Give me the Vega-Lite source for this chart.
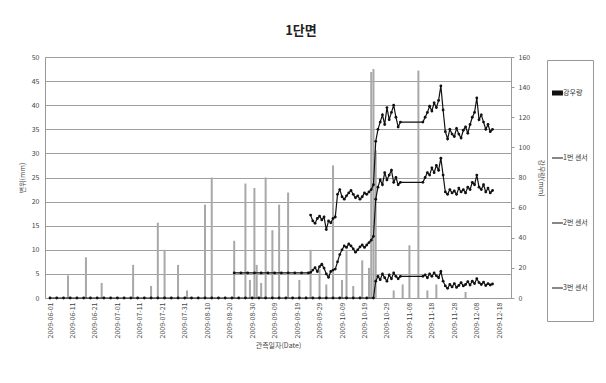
{
  "$schema": "https://vega.github.io/schema/vega-lite/v6.json",
  "width": 466,
  "height": 241,
  "autosize": {"type": "none"},
  "padding": {"left": 45, "top": 57, "right": 95, "bottom": 85},
  "background": "white",
  "title": {"text": "1단면", "fontSize": 13, "fontWeight": "bold", "color": "#222", "offset": 15, "dx": 23, "anchor": "middle"},
  "config": {
    "font": "Noto Sans CJK KR",
    "view": {"stroke": null},
    "axis": {"labelFontSize": 7, "labelColor": "#444", "titleFontSize": 7, "titleColor": "#444", "titleFontWeight": "normal", "domainColor": "#999", "tickColor": "#999", "gridColor": "#a0a0a0", "gridWidth": 1},
    "axisX": {"labelOverlap": false}
  },
  "datasets": {
    "rain": [
      {"d": "2009-06-09", "r": 15}, {"d": "2009-06-17", "r": 27}, {"d": "2009-06-24", "r": 10},
      {"d": "2009-07-08", "r": 22}, {"d": "2009-07-16", "r": 8}, {"d": "2009-07-19", "r": 50},
      {"d": "2009-07-22", "r": 32}, {"d": "2009-07-28", "r": 22}, {"d": "2009-08-01", "r": 5},
      {"d": "2009-08-09", "r": 62}, {"d": "2009-08-12", "r": 80}, {"d": "2009-08-22", "r": 38},
      {"d": "2009-08-27", "r": 76}, {"d": "2009-08-29", "r": 12}, {"d": "2009-08-31", "r": 73},
      {"d": "2009-09-01", "r": 22}, {"d": "2009-09-03", "r": 10}, {"d": "2009-09-05", "r": 80},
      {"d": "2009-09-08", "r": 45}, {"d": "2009-09-11", "r": 62}, {"d": "2009-09-15", "r": 70},
      {"d": "2009-09-20", "r": 12}, {"d": "2009-09-25", "r": 32}, {"d": "2009-09-29", "r": 19},
      {"d": "2009-10-02", "r": 9}, {"d": "2009-10-05", "r": 88}, {"d": "2009-10-09", "r": 12},
      {"d": "2009-10-11", "r": 32}, {"d": "2009-10-14", "r": 8}, {"d": "2009-10-18", "r": 25},
      {"d": "2009-10-21", "r": 20}, {"d": "2009-10-22", "r": 150}, {"d": "2009-10-23", "r": 152},
      {"d": "2009-10-24", "r": 98}, {"d": "2009-11-01", "r": 5}, {"d": "2009-11-05", "r": 9},
      {"d": "2009-11-08", "r": 35}, {"d": "2009-11-12", "r": 151}, {"d": "2009-11-16", "r": 5},
      {"d": "2009-11-20", "r": 9}, {"d": "2009-12-03", "r": 4}
    ],
    "sensor": [
      {"d": "2009-09-25", "s": "1번 센서", "v": 17.2}, {"d": "2009-09-26", "s": "1번 센서", "v": 16.0},
      {"d": "2009-09-27", "s": "1번 센서", "v": 15.5}, {"d": "2009-09-28", "s": "1번 센서", "v": 16.5},
      {"d": "2009-09-29", "s": "1번 센서", "v": 17.0}, {"d": "2009-09-30", "s": "1번 센서", "v": 16.2},
      {"d": "2009-10-01", "s": "1번 센서", "v": 16.8}, {"d": "2009-10-02", "s": "1번 센서", "v": 14.2},
      {"d": "2009-10-03", "s": "1번 센서", "v": 16.0}, {"d": "2009-10-04", "s": "1번 센서", "v": 15.6},
      {"d": "2009-10-05", "s": "1번 센서", "v": 16.5}, {"d": "2009-10-06", "s": "1번 센서", "v": 16.8},
      {"d": "2009-10-07", "s": "1번 센서", "v": 21.5}, {"d": "2009-10-08", "s": "1번 센서", "v": 22.5},
      {"d": "2009-10-09", "s": "1번 센서", "v": 21.0}, {"d": "2009-10-10", "s": "1번 센서", "v": 20.5},
      {"d": "2009-10-11", "s": "1번 센서", "v": 21.2}, {"d": "2009-10-12", "s": "1번 센서", "v": 21.8},
      {"d": "2009-10-13", "s": "1번 센서", "v": 22.3}, {"d": "2009-10-14", "s": "1번 센서", "v": 21.5},
      {"d": "2009-10-15", "s": "1번 센서", "v": 20.8}, {"d": "2009-10-16", "s": "1번 센서", "v": 21.2},
      {"d": "2009-10-17", "s": "1번 센서", "v": 20.5}, {"d": "2009-10-18", "s": "1번 센서", "v": 21.0},
      {"d": "2009-10-19", "s": "1번 센서", "v": 21.8}, {"d": "2009-10-20", "s": "1번 센서", "v": 21.5},
      {"d": "2009-10-21", "s": "1번 센서", "v": 22.0}, {"d": "2009-10-22", "s": "1번 센서", "v": 22.5},
      {"d": "2009-10-23", "s": "1번 센서", "v": 23.5}, {"d": "2009-10-24", "s": "1번 센서", "v": 32.5},
      {"d": "2009-10-25", "s": "1번 센서", "v": 35.0}, {"d": "2009-10-26", "s": "1번 센서", "v": 36.5},
      {"d": "2009-10-27", "s": "1번 센서", "v": 38.0}, {"d": "2009-10-28", "s": "1번 센서", "v": 36.0},
      {"d": "2009-10-29", "s": "1번 센서", "v": 39.5}, {"d": "2009-10-30", "s": "1번 센서", "v": 37.0},
      {"d": "2009-10-31", "s": "1번 센서", "v": 38.5}, {"d": "2009-11-01", "s": "1번 센서", "v": 40.0},
      {"d": "2009-11-02", "s": "1번 센서", "v": 37.5}, {"d": "2009-11-03", "s": "1번 센서", "v": 35.5},
      {"d": "2009-11-04", "s": "1번 센서", "v": 36.5}, {"d": "2009-11-14", "s": "1번 센서", "v": 36.5},
      {"d": "2009-11-15", "s": "1번 센서", "v": 37.5}, {"d": "2009-11-16", "s": "1번 센서", "v": 38.5},
      {"d": "2009-11-17", "s": "1번 센서", "v": 39.8}, {"d": "2009-11-18", "s": "1번 센서", "v": 38.8},
      {"d": "2009-11-19", "s": "1번 센서", "v": 40.5}, {"d": "2009-11-20", "s": "1번 센서", "v": 39.5},
      {"d": "2009-11-21", "s": "1번 센서", "v": 41.0}, {"d": "2009-11-22", "s": "1번 센서", "v": 44.0},
      {"d": "2009-11-23", "s": "1번 센서", "v": 39.0}, {"d": "2009-11-24", "s": "1번 센서", "v": 34.5},
      {"d": "2009-11-25", "s": "1번 센서", "v": 33.0}, {"d": "2009-11-26", "s": "1번 센서", "v": 35.0},
      {"d": "2009-11-27", "s": "1번 센서", "v": 34.0}, {"d": "2009-11-28", "s": "1번 센서", "v": 33.5},
      {"d": "2009-11-29", "s": "1번 센서", "v": 35.2}, {"d": "2009-11-30", "s": "1번 센서", "v": 34.0},
      {"d": "2009-12-01", "s": "1번 센서", "v": 33.2}, {"d": "2009-12-02", "s": "1번 센서", "v": 34.8},
      {"d": "2009-12-03", "s": "1번 센서", "v": 35.5}, {"d": "2009-12-04", "s": "1번 센서", "v": 34.2},
      {"d": "2009-12-05", "s": "1번 센서", "v": 36.0}, {"d": "2009-12-06", "s": "1번 센서", "v": 37.5},
      {"d": "2009-12-07", "s": "1번 센서", "v": 38.5}, {"d": "2009-12-08", "s": "1번 센서", "v": 41.5},
      {"d": "2009-12-09", "s": "1번 센서", "v": 37.0}, {"d": "2009-12-10", "s": "1번 센서", "v": 38.0},
      {"d": "2009-12-11", "s": "1번 센서", "v": 36.5}, {"d": "2009-12-12", "s": "1번 센서", "v": 35.0},
      {"d": "2009-12-13", "s": "1번 센서", "v": 36.0}, {"d": "2009-12-14", "s": "1번 센서", "v": 34.5},
      {"d": "2009-12-15", "s": "1번 센서", "v": 35.0},

      {"d": "2009-08-22", "s": "2번 센서", "v": 5.2}, {"d": "2009-08-25", "s": "2번 센서", "v": 5.2},
      {"d": "2009-08-28", "s": "2번 센서", "v": 5.2}, {"d": "2009-08-31", "s": "2번 센서", "v": 5.2},
      {"d": "2009-09-03", "s": "2번 센서", "v": 5.2}, {"d": "2009-09-06", "s": "2번 센서", "v": 5.2},
      {"d": "2009-09-09", "s": "2번 센서", "v": 5.2}, {"d": "2009-09-12", "s": "2번 센서", "v": 5.2},
      {"d": "2009-09-15", "s": "2번 센서", "v": 5.2}, {"d": "2009-09-18", "s": "2번 센서", "v": 5.2},
      {"d": "2009-09-21", "s": "2번 센서", "v": 5.2}, {"d": "2009-09-24", "s": "2번 센서", "v": 5.2},
      {"d": "2009-09-25", "s": "2번 센서", "v": 5.3}, {"d": "2009-09-26", "s": "2번 센서", "v": 5.8},
      {"d": "2009-09-27", "s": "2번 센서", "v": 6.3}, {"d": "2009-09-28", "s": "2번 센서", "v": 5.5},
      {"d": "2009-09-29", "s": "2번 센서", "v": 6.5}, {"d": "2009-09-30", "s": "2번 센서", "v": 7.0},
      {"d": "2009-10-01", "s": "2번 센서", "v": 6.2}, {"d": "2009-10-02", "s": "2번 센서", "v": 5.0},
      {"d": "2009-10-03", "s": "2번 센서", "v": 4.3}, {"d": "2009-10-04", "s": "2번 센서", "v": 5.5},
      {"d": "2009-10-05", "s": "2번 센서", "v": 5.8}, {"d": "2009-10-06", "s": "2번 센서", "v": 6.0},
      {"d": "2009-10-07", "s": "2번 센서", "v": 7.5}, {"d": "2009-10-08", "s": "2번 센서", "v": 9.0},
      {"d": "2009-10-09", "s": "2번 센서", "v": 10.0}, {"d": "2009-10-10", "s": "2번 센서", "v": 10.8},
      {"d": "2009-10-11", "s": "2번 센서", "v": 10.5}, {"d": "2009-10-12", "s": "2번 센서", "v": 11.2},
      {"d": "2009-10-13", "s": "2번 센서", "v": 10.8}, {"d": "2009-10-14", "s": "2번 센서", "v": 10.2},
      {"d": "2009-10-15", "s": "2번 센서", "v": 9.5}, {"d": "2009-10-16", "s": "2번 센서", "v": 10.0},
      {"d": "2009-10-17", "s": "2번 센서", "v": 10.6}, {"d": "2009-10-18", "s": "2번 센서", "v": 11.0},
      {"d": "2009-10-19", "s": "2번 센서", "v": 10.5}, {"d": "2009-10-20", "s": "2번 센서", "v": 11.0},
      {"d": "2009-10-21", "s": "2번 센서", "v": 11.5}, {"d": "2009-10-22", "s": "2번 센서", "v": 12.0},
      {"d": "2009-10-23", "s": "2번 센서", "v": 12.8}, {"d": "2009-10-24", "s": "2번 센서", "v": 20.5},
      {"d": "2009-10-25", "s": "2번 센서", "v": 23.0}, {"d": "2009-10-26", "s": "2번 센서", "v": 24.5},
      {"d": "2009-10-27", "s": "2번 센서", "v": 23.5}, {"d": "2009-10-28", "s": "2번 센서", "v": 26.0},
      {"d": "2009-10-29", "s": "2번 센서", "v": 24.5}, {"d": "2009-10-30", "s": "2번 센서", "v": 25.5},
      {"d": "2009-10-31", "s": "2번 센서", "v": 26.5}, {"d": "2009-11-01", "s": "2번 센서", "v": 24.0},
      {"d": "2009-11-02", "s": "2번 센서", "v": 25.0}, {"d": "2009-11-03", "s": "2번 센서", "v": 23.5},
      {"d": "2009-11-04", "s": "2번 센서", "v": 24.0}, {"d": "2009-11-14", "s": "2번 센서", "v": 24.0},
      {"d": "2009-11-15", "s": "2번 센서", "v": 25.0}, {"d": "2009-11-16", "s": "2번 센서", "v": 26.0},
      {"d": "2009-11-17", "s": "2번 센서", "v": 25.5}, {"d": "2009-11-18", "s": "2번 센서", "v": 27.0},
      {"d": "2009-11-19", "s": "2번 센서", "v": 26.0}, {"d": "2009-11-20", "s": "2번 센서", "v": 27.5},
      {"d": "2009-11-21", "s": "2번 센서", "v": 26.5}, {"d": "2009-11-22", "s": "2번 센서", "v": 29.0},
      {"d": "2009-11-23", "s": "2번 센서", "v": 25.5}, {"d": "2009-11-24", "s": "2번 센서", "v": 22.0},
      {"d": "2009-11-25", "s": "2번 센서", "v": 21.5}, {"d": "2009-11-26", "s": "2번 센서", "v": 22.5},
      {"d": "2009-11-27", "s": "2번 센서", "v": 21.8}, {"d": "2009-11-28", "s": "2번 센서", "v": 22.2},
      {"d": "2009-11-29", "s": "2번 센서", "v": 21.5}, {"d": "2009-11-30", "s": "2번 센서", "v": 22.8},
      {"d": "2009-12-01", "s": "2번 센서", "v": 22.0}, {"d": "2009-12-02", "s": "2번 센서", "v": 22.5},
      {"d": "2009-12-03", "s": "2번 센서", "v": 21.8}, {"d": "2009-12-04", "s": "2번 센서", "v": 23.0},
      {"d": "2009-12-05", "s": "2번 센서", "v": 22.5}, {"d": "2009-12-06", "s": "2번 센서", "v": 24.0},
      {"d": "2009-12-07", "s": "2번 센서", "v": 23.5}, {"d": "2009-12-08", "s": "2번 센서", "v": 25.5},
      {"d": "2009-12-09", "s": "2번 센서", "v": 23.0}, {"d": "2009-12-10", "s": "2번 센서", "v": 22.5},
      {"d": "2009-12-11", "s": "2번 센서", "v": 23.5}, {"d": "2009-12-12", "s": "2번 센서", "v": 22.0},
      {"d": "2009-12-13", "s": "2번 센서", "v": 22.8}, {"d": "2009-12-14", "s": "2번 센서", "v": 21.8},
      {"d": "2009-12-15", "s": "2번 센서", "v": 22.3},

      {"d": "2009-06-01", "s": "3번 센서", "v": 0}, {"d": "2009-06-04", "s": "3번 센서", "v": 0},
      {"d": "2009-06-07", "s": "3번 센서", "v": 0}, {"d": "2009-06-10", "s": "3번 센서", "v": 0},
      {"d": "2009-06-13", "s": "3번 센서", "v": 0}, {"d": "2009-06-16", "s": "3번 센서", "v": 0},
      {"d": "2009-06-19", "s": "3번 센서", "v": 0}, {"d": "2009-06-22", "s": "3번 센서", "v": 0},
      {"d": "2009-06-25", "s": "3번 센서", "v": 0}, {"d": "2009-06-28", "s": "3번 센서", "v": 0},
      {"d": "2009-07-01", "s": "3번 센서", "v": 0}, {"d": "2009-07-04", "s": "3번 센서", "v": 0},
      {"d": "2009-07-07", "s": "3번 센서", "v": 0}, {"d": "2009-07-10", "s": "3번 센서", "v": 0},
      {"d": "2009-07-13", "s": "3번 센서", "v": 0}, {"d": "2009-07-16", "s": "3번 센서", "v": 0},
      {"d": "2009-07-19", "s": "3번 센서", "v": 0}, {"d": "2009-07-22", "s": "3번 센서", "v": 0},
      {"d": "2009-07-25", "s": "3번 센서", "v": 0}, {"d": "2009-07-28", "s": "3번 센서", "v": 0},
      {"d": "2009-07-31", "s": "3번 센서", "v": 0}, {"d": "2009-08-03", "s": "3번 센서", "v": 0},
      {"d": "2009-08-06", "s": "3번 센서", "v": 0}, {"d": "2009-08-09", "s": "3번 센서", "v": 0},
      {"d": "2009-08-12", "s": "3번 센서", "v": 0}, {"d": "2009-08-15", "s": "3번 센서", "v": 0},
      {"d": "2009-08-18", "s": "3번 센서", "v": 0}, {"d": "2009-08-21", "s": "3번 센서", "v": 0},
      {"d": "2009-08-24", "s": "3번 센서", "v": 0}, {"d": "2009-08-27", "s": "3번 센서", "v": 0},
      {"d": "2009-08-30", "s": "3번 센서", "v": 0}, {"d": "2009-09-02", "s": "3번 센서", "v": 0},
      {"d": "2009-09-05", "s": "3번 센서", "v": 0}, {"d": "2009-09-08", "s": "3번 센서", "v": 0},
      {"d": "2009-09-11", "s": "3번 센서", "v": 0}, {"d": "2009-09-14", "s": "3번 센서", "v": 0},
      {"d": "2009-09-17", "s": "3번 센서", "v": 0}, {"d": "2009-09-20", "s": "3번 센서", "v": 0},
      {"d": "2009-09-23", "s": "3번 센서", "v": 0}, {"d": "2009-09-26", "s": "3번 센서", "v": 0},
      {"d": "2009-09-29", "s": "3번 센서", "v": 0}, {"d": "2009-10-02", "s": "3번 센서", "v": 0},
      {"d": "2009-10-05", "s": "3번 센서", "v": 0}, {"d": "2009-10-08", "s": "3번 센서", "v": 0},
      {"d": "2009-10-11", "s": "3번 센서", "v": 0}, {"d": "2009-10-14", "s": "3번 센서", "v": 0},
      {"d": "2009-10-17", "s": "3번 센서", "v": 0}, {"d": "2009-10-20", "s": "3번 센서", "v": 0},
      {"d": "2009-10-23", "s": "3번 센서", "v": 0}, {"d": "2009-10-24", "s": "3번 센서", "v": 3.5},
      {"d": "2009-10-25", "s": "3번 센서", "v": 4.5}, {"d": "2009-10-26", "s": "3번 센서", "v": 3.8},
      {"d": "2009-10-27", "s": "3번 센서", "v": 5.0}, {"d": "2009-10-28", "s": "3번 센서", "v": 4.2},
      {"d": "2009-10-29", "s": "3번 센서", "v": 3.5}, {"d": "2009-10-30", "s": "3번 센서", "v": 4.8},
      {"d": "2009-10-31", "s": "3번 센서", "v": 4.0}, {"d": "2009-11-01", "s": "3번 센서", "v": 5.2},
      {"d": "2009-11-02", "s": "3번 센서", "v": 4.5}, {"d": "2009-11-03", "s": "3번 센서", "v": 4.0},
      {"d": "2009-11-04", "s": "3번 센서", "v": 4.5}, {"d": "2009-11-14", "s": "3번 센서", "v": 4.5},
      {"d": "2009-11-15", "s": "3번 센서", "v": 4.8}, {"d": "2009-11-16", "s": "3번 센서", "v": 4.2},
      {"d": "2009-11-17", "s": "3번 센서", "v": 5.0}, {"d": "2009-11-18", "s": "3번 센서", "v": 4.5},
      {"d": "2009-11-19", "s": "3번 센서", "v": 5.2}, {"d": "2009-11-20", "s": "3번 센서", "v": 4.6},
      {"d": "2009-11-21", "s": "3번 센서", "v": 4.2}, {"d": "2009-11-22", "s": "3번 센서", "v": 5.5},
      {"d": "2009-11-23", "s": "3번 센서", "v": 3.5}, {"d": "2009-11-24", "s": "3번 센서", "v": 2.5},
      {"d": "2009-11-25", "s": "3번 센서", "v": 2.0}, {"d": "2009-11-26", "s": "3번 센서", "v": 2.8},
      {"d": "2009-11-27", "s": "3번 센서", "v": 2.3}, {"d": "2009-11-28", "s": "3번 센서", "v": 3.0},
      {"d": "2009-11-29", "s": "3번 센서", "v": 2.2}, {"d": "2009-11-30", "s": "3번 센서", "v": 2.6},
      {"d": "2009-12-01", "s": "3번 센서", "v": 3.2}, {"d": "2009-12-02", "s": "3번 센서", "v": 2.5},
      {"d": "2009-12-03", "s": "3번 센서", "v": 2.8}, {"d": "2009-12-04", "s": "3번 센서", "v": 3.4},
      {"d": "2009-12-05", "s": "3번 센서", "v": 2.7}, {"d": "2009-12-06", "s": "3번 센서", "v": 3.5},
      {"d": "2009-12-07", "s": "3번 센서", "v": 3.0}, {"d": "2009-12-08", "s": "3번 센서", "v": 4.0},
      {"d": "2009-12-09", "s": "3번 센서", "v": 3.2}, {"d": "2009-12-10", "s": "3번 센서", "v": 2.8},
      {"d": "2009-12-11", "s": "3번 센서", "v": 3.3}, {"d": "2009-12-12", "s": "3번 센서", "v": 2.6},
      {"d": "2009-12-13", "s": "3번 센서", "v": 3.0}, {"d": "2009-12-14", "s": "3번 센서", "v": 2.7},
      {"d": "2009-12-15", "s": "3번 센서", "v": 2.9}
    ]
  },
  "layer": [
    {
      "data": {"name": "rain"},
      "mark": {"type": "bar", "size": 2, "color": "#a8a8a8"},
      "encoding": {
        "x": {
          "field": "d", "type": "temporal",
          "scale": {"type": "utc", "domain": [{"year": 2009, "month": 6, "date": 1, "utc": true}, {"year": 2009, "month": 12, "date": 21, "utc": true}]},
          "axis": {
            "title": "관측일자(Date)", "format": "%Y-%m-%d", "labelAngle": -90, "labelOverlap": false, "tickCount": 30, "grid": false, "ticks": false, "labelPadding": 4,
            "values": [
              {"year": 2009, "month": 6, "date": 1, "utc": true}, {"year": 2009, "month": 6, "date": 11, "utc": true},
              {"year": 2009, "month": 6, "date": 21, "utc": true}, {"year": 2009, "month": 7, "date": 1, "utc": true},
              {"year": 2009, "month": 7, "date": 11, "utc": true}, {"year": 2009, "month": 7, "date": 21, "utc": true},
              {"year": 2009, "month": 7, "date": 31, "utc": true}, {"year": 2009, "month": 8, "date": 10, "utc": true},
              {"year": 2009, "month": 8, "date": 20, "utc": true}, {"year": 2009, "month": 8, "date": 30, "utc": true},
              {"year": 2009, "month": 9, "date": 9, "utc": true}, {"year": 2009, "month": 9, "date": 19, "utc": true},
              {"year": 2009, "month": 9, "date": 29, "utc": true}, {"year": 2009, "month": 10, "date": 9, "utc": true},
              {"year": 2009, "month": 10, "date": 19, "utc": true}, {"year": 2009, "month": 10, "date": 29, "utc": true},
              {"year": 2009, "month": 11, "date": 8, "utc": true}, {"year": 2009, "month": 11, "date": 18, "utc": true},
              {"year": 2009, "month": 11, "date": 28, "utc": true}, {"year": 2009, "month": 12, "date": 8, "utc": true},
              {"year": 2009, "month": 12, "date": 18, "utc": true}
            ]
          }
        },
        "y": {
          "field": "r", "type": "quantitative",
          "scale": {"domain": [0, 160]},
          "axis": {"orient": "right", "title": "강우량(mm)", "values": [0, 20, 40, 60, 80, 100, 120, 140, 160], "grid": false, "tickSize": 3, "labelPadding": 4, "titlePadding": 8}
        }
      }
    },
    {
      "data": {"name": "sensor"},
      "mark": {"type": "line", "strokeWidth": 1.2, "point": {"filled": true, "size": 8}},
      "encoding": {
        "x": {"field": "d", "type": "temporal"},
        "y": {
          "field": "v", "type": "quantitative",
          "scale": {"domain": [0, 50]},
          "axis": {"orient": "left", "title": "변위(mm)", "values": [0, 5, 10, 15, 20, 25, 30, 35, 40, 45, 50], "grid": true, "ticks": false, "labelPadding": 6, "titlePadding": 6}
        },
        "color": {
          "field": "s", "type": "nominal",
          "scale": {"domain": ["강우량", "1번 센서", "2번 센서", "3번 센서"], "range": ["#111", "#111", "#111", "#111"]},
          "legend": {
            "orient": "none", "legendX": 502, "legendY": 3, "title": null,
            "strokeColor": "#999", "fillColor": "white", "padding": 5,
            "clipHeight": 56, "rowPadding": 9,
            "symbolType": "stroke", "symbolSize": 220,
            "symbolStrokeWidth": {"expr": "datum.value === '강우량' ? 5 : 1.2"},
            "labelFontSize": 7, "labelColor": "#333", "labelOffset": 4
          }
        }
      }
    }
  ],
  "resolve": {"scale": {"y": "independent"}}
}
